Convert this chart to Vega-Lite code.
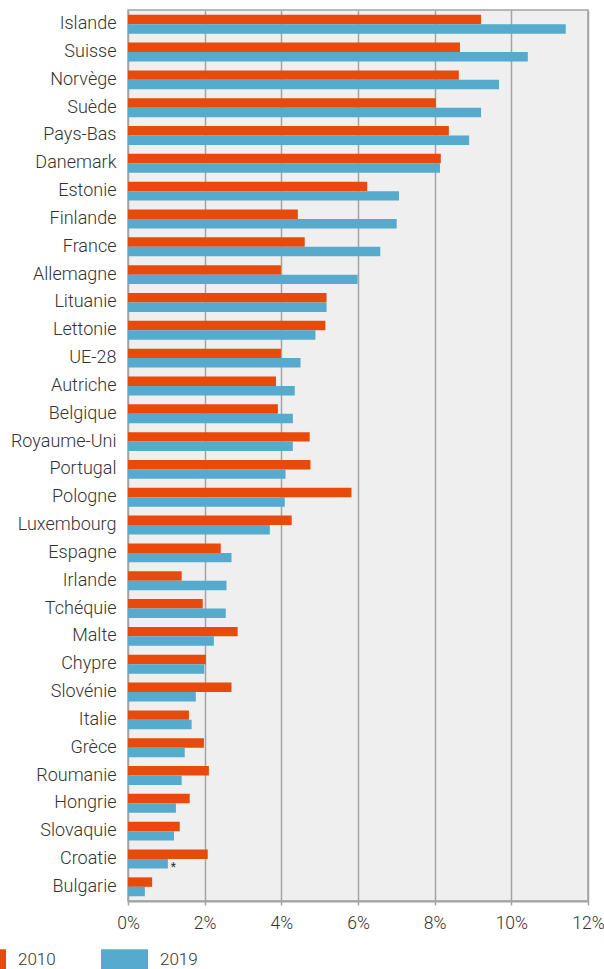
{
  "$schema": "https://vega.github.io/schema/vega-lite/v6.json",
  "width": 460,
  "height": 891,
  "autosize": {"type": "none"},
  "padding": {"left": 128, "top": 10, "right": 16, "bottom": 68},
  "background": "white",
  "config": {
    "font": "Roboto",
    "view": {"fill": "#efefef", "stroke": "#a3a3a3", "strokeWidth": 1.5}
  },
  "data": {
    "values": [
      {"country": "Islande", "year": "2010", "value": 9.21},
      {"country": "Islande", "year": "2019", "value": 11.42},
      {"country": "Suisse", "year": "2010", "value": 8.66},
      {"country": "Suisse", "year": "2019", "value": 10.43},
      {"country": "Norvège", "year": "2010", "value": 8.63},
      {"country": "Norvège", "year": "2019", "value": 9.68},
      {"country": "Suède", "year": "2010", "value": 8.03},
      {"country": "Suède", "year": "2019", "value": 9.21},
      {"country": "Pays-Bas", "year": "2010", "value": 8.37},
      {"country": "Pays-Bas", "year": "2019", "value": 8.9},
      {"country": "Danemark", "year": "2010", "value": 8.16},
      {"country": "Danemark", "year": "2019", "value": 8.14},
      {"country": "Estonie", "year": "2010", "value": 6.24},
      {"country": "Estonie", "year": "2019", "value": 7.07},
      {"country": "Finlande", "year": "2010", "value": 4.43},
      {"country": "Finlande", "year": "2019", "value": 7.01},
      {"country": "France", "year": "2010", "value": 4.61},
      {"country": "France", "year": "2019", "value": 6.58},
      {"country": "Allemagne", "year": "2010", "value": 3.99},
      {"country": "Allemagne", "year": "2019", "value": 5.99},
      {"country": "Lituanie", "year": "2010", "value": 5.18},
      {"country": "Lituanie", "year": "2019", "value": 5.18},
      {"country": "Lettonie", "year": "2010", "value": 5.15},
      {"country": "Lettonie", "year": "2019", "value": 4.89},
      {"country": "UE-28", "year": "2010", "value": 3.99},
      {"country": "UE-28", "year": "2019", "value": 4.5},
      {"country": "Autriche", "year": "2010", "value": 3.86},
      {"country": "Autriche", "year": "2019", "value": 4.35},
      {"country": "Belgique", "year": "2010", "value": 3.91},
      {"country": "Belgique", "year": "2019", "value": 4.3},
      {"country": "Royaume-Uni", "year": "2010", "value": 4.74},
      {"country": "Royaume-Uni", "year": "2019", "value": 4.3},
      {"country": "Portugal", "year": "2010", "value": 4.76},
      {"country": "Portugal", "year": "2019", "value": 4.11},
      {"country": "Pologne", "year": "2010", "value": 5.83},
      {"country": "Pologne", "year": "2019", "value": 4.09},
      {"country": "Luxembourg", "year": "2010", "value": 4.27},
      {"country": "Luxembourg", "year": "2019", "value": 3.7},
      {"country": "Espagne", "year": "2010", "value": 2.42},
      {"country": "Espagne", "year": "2019", "value": 2.7},
      {"country": "Irlande", "year": "2010", "value": 1.4},
      {"country": "Irlande", "year": "2019", "value": 2.57},
      {"country": "Tchéquie", "year": "2010", "value": 1.95},
      {"country": "Tchéquie", "year": "2019", "value": 2.55},
      {"country": "Malte", "year": "2010", "value": 2.86},
      {"country": "Malte", "year": "2019", "value": 2.24},
      {"country": "Chypre", "year": "2010", "value": 2.03},
      {"country": "Chypre", "year": "2019", "value": 1.99},
      {"country": "Slovénie", "year": "2010", "value": 2.7},
      {"country": "Slovénie", "year": "2019", "value": 1.77},
      {"country": "Italie", "year": "2010", "value": 1.59},
      {"country": "Italie", "year": "2019", "value": 1.66},
      {"country": "Grèce", "year": "2010", "value": 1.98},
      {"country": "Grèce", "year": "2019", "value": 1.48},
      {"country": "Roumanie", "year": "2010", "value": 2.11},
      {"country": "Roumanie", "year": "2019", "value": 1.4},
      {"country": "Hongrie", "year": "2010", "value": 1.61},
      {"country": "Hongrie", "year": "2019", "value": 1.25},
      {"country": "Slovaquie", "year": "2010", "value": 1.35},
      {"country": "Slovaquie", "year": "2019", "value": 1.2},
      {"country": "Croatie", "year": "2010", "value": 2.08},
      {"country": "Croatie", "year": "2019", "value": 1.04, "note": "*"},
      {"country": "Bulgarie", "year": "2010", "value": 0.63},
      {"country": "Bulgarie", "year": "2019", "value": 0.44}
    ]
  },
  "encoding": {
    "y": {
      "field": "country",
      "type": "nominal",
      "sort": ["Islande","Suisse","Norvège","Suède","Pays-Bas","Danemark","Estonie","Finlande","France","Allemagne","Lituanie","Lettonie","UE-28","Autriche","Belgique","Royaume-Uni","Portugal","Pologne","Luxembourg","Espagne","Irlande","Tchéquie","Malte","Chypre","Slovénie","Italie","Grèce","Roumanie","Hongrie","Slovaquie","Croatie","Bulgarie"],
      "scale": {"paddingInner": 0.32, "paddingOuter": 0.17},
      "axis": {
        "title": null,
        "ticks": false,
        "domain": false,
        "labelFontSize": 18,
        "labelFontWeight": 300,
        "labelColor": "#333333",
        "labelPadding": 12
      }
    },
    "x": {
      "field": "value",
      "type": "quantitative",
      "scale": {"domain": [0, 12], "nice": false},
      "axis": {
        "title": null,
        "values": [0, 2, 4, 6, 8, 10, 12],
        "labelExpr": "datum.value + '%'",
        "labelFlush": false,
        "labelFontSize": 17.5,
        "labelFontWeight": 300,
        "labelColor": "#333333",
        "labelPadding": 9,
        "grid": true,
        "gridColor": "#a3a3a3",
        "gridWidth": 1.5,
        "domainColor": "#a3a3a3",
        "domainWidth": 2,
        "tickColor": "#a3a3a3",
        "tickSize": 4,
        "tickWidth": 1.5
      }
    },
    "yOffset": {"field": "year", "type": "nominal", "sort": ["2010", "2019"], "scale": {"paddingInner": 0, "paddingOuter": 0}}
  },
  "layer": [
    {
      "mark": {"type": "bar"},
      "encoding": {
        "color": {
          "field": "year",
          "type": "nominal",
          "scale": {"domain": ["2010", "2019"], "range": ["#e84a0c", "#56aacd"]},
          "legend": {
            "orient": "none",
            "legendX": -169,
            "legendY": 926.5,
            "direction": "horizontal",
            "title": null,
            "padding": 0,
            "symbolType": "M-1,-0.47H1V0.47H-1Z",
            "symbolSize": 2209,
            "symbolStrokeWidth": 0,
            "symbolOpacity": 1,
            "labelFontSize": 17,
            "labelFontWeight": 300,
            "labelColor": "#333333",
            "labelOffset": 12,
            "columnPadding": 45
          }
        }
      }
    },
    {
      "transform": [{"filter": "datum.note != null"}],
      "mark": {"type": "text", "align": "left", "dx": 3, "dy": 3, "fontSize": 12, "color": "#333333"},
      "encoding": {"text": {"field": "note"}}
    }
  ]
}
